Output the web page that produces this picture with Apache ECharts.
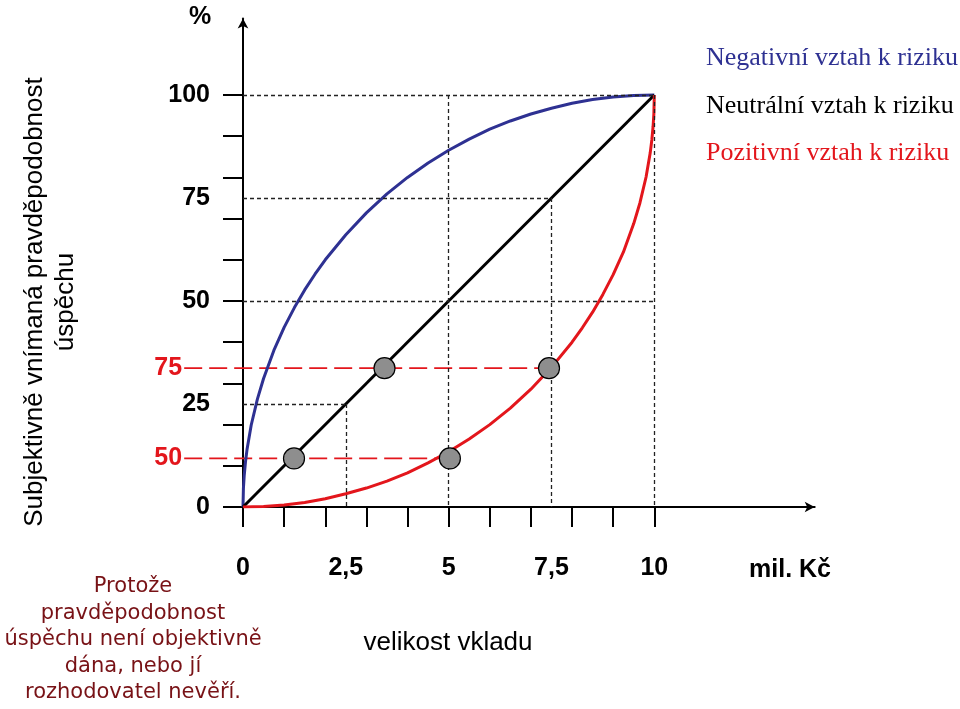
<!DOCTYPE html>
<html><head><meta charset="utf-8">
<script src="https://cdn.jsdelivr.net/npm/echarts@6/dist/echarts.min.js"></script>
<style>html,body{margin:0;padding:0;background:#fff}#c{width:960px;height:709px}</style>
</head><body><div id="c"></div>
<script>
// ---- data ----
const xTickValues = [0,1,2,3,4,5,6,7,8,9,10];
const xLabelValues = [0,2.5,5,7.5,10];
const yTickValues = [0,10,20,30,40,50,60,70,80,90,100];
const yLabelValues = [0,25,50,75,100];
const negativeCurve = [[0,0],[0.01,4.5],[0.03,7.7],[0.06,10.9],[0.1,14.1],[0.2,19.9],[0.35,26.2],[0.5,31.2],[0.75,38],[1,43.6],[1.25,48.4],[1.5,52.7],[1.75,56.5],[2,60],[2.5,66.1],[3,71.4],[3.5,76],[4,80],[4.5,83.5],[5,86.6],[5.5,89.3],[6,91.7],[6.5,93.7],[7,95.4],[7.5,96.8],[8,98],[8.5,98.9],[9,99.5],[9.5,99.87],[10,100]];
const neutralLine = [[0,0],[10,100]];
const positiveCurve = [[0,0],[0.5,0.13],[1,0.5],[1.5,1.1],[2,2],[2.5,3.2],[3,4.6],[3.5,6.3],[4,8.3],[4.5,10.7],[5,13.4],[5.5,16.5],[6,20],[6.5,24],[7,28.6],[7.5,33.9],[8,40],[8.25,43.5],[8.5,47.3],[8.75,51.6],[9,56.4],[9.25,61.9],[9.5,68.8],[9.65,73.8],[9.8,80.1],[9.9,85.9],[9.94,89.1],[9.97,92.3],[9.99,95.5],[10,100]];
const markedPoints = [[1.24,11.8],[3.44,33.7],[5.03,11.8],[7.44,33.7]];
const subjectiveLevels = [{label:'75', y:33.7, xEnd:7.44},{label:'50', y:11.8, xEnd:5.03}];
const subjectiveStartX = -1.43;
const guideSegments = [
  [[0,100],[10,100]], [[0,75],[7.5,75]], [[0,50],[10,50]], [[0,25],[2.5,25]],
  [[2.5,25],[2.5,0]], [[5,100],[5,0]], [[7.5,75],[7.5,0]], [[10,100],[10,0]]
];
const legendNames = ['Negativní vztah k riziku','Neutrální vztah k riziku','Pozitivní vztah k riziku'];
const yTitle = 'Subjektivně vnímaná pravděpodobnost\núspěchu';
const xTitle = 'velikost vkladu';
const xUnit = 'mil. Kč';
const yUnit = '%';
const noteText = 'Protože\npravděpodobnost\núspěchu není objektivně\ndána, nebo jí\nrozhodovatel nevěří.';

const X_MAX = 13.9, Y_MAX = 118.6;
const PX_PER_X = 41.13;
const GRID_LEFT = 243, GRID_TOP = 18.4, GRID_H = 488.6;

const BLUE = '#2e3192', RED = '#e3161c', NOTE = '#781216';
const chart = echarts.init(document.getElementById('c'), null, {renderer:'canvas'});

const series = [];
series.push({
  type:'line', data:[], silent:true, z:1,
  markLine:{ silent:true, symbol:['none','none'], label:{show:false},
    lineStyle:{type:[4,3], color:'#222', width:1.3},
    data: guideSegments.map(s=>[{coord:s[0]},{coord:s[1]}]) }
});
subjectiveLevels.forEach(l=>{
  series.push({
    type:'line', xAxisIndex:1, yAxisIndex:1, silent:true, z:3, symbol:'none',
    lineStyle:{color:RED, width:1.6, type:[18,7]},
    data:[{value:[subjectiveStartX,l.y], symbol:'circle', symbolSize:0.1,
           label:{show:true, position:'left', distance:2, formatter:l.label, color:RED, fontSize:25, fontWeight:'bold', fontFamily:'Liberation Sans, Arial'}},
          [l.xEnd,l.y]],
    showSymbol:true
  });
});
series.push({type:'line', name:legendNames[0], data:negativeCurve, showSymbol:false, z:4, lineStyle:{color:BLUE, width:3, join:'round'}});
series.push({type:'line', name:legendNames[1], data:neutralLine, showSymbol:false, z:4, lineStyle:{color:'#000', width:3}});
series.push({type:'line', name:legendNames[2], data:positiveCurve, showSymbol:false, z:4, lineStyle:{color:RED, width:3, join:'round'}});
series.push({type:'scatter', data:markedPoints, symbolSize:21, z:6,
  itemStyle:{color:'#8e8e8e', borderColor:'#000', borderWidth:1.2, opacity:1}});

const txt = (o)=>({type:'text', silent:true, ...o});
const graphic = [
  txt({x:200, y:17, style:{text:yUnit, fontSize:25, fontWeight:'bold', fontFamily:'Liberation Sans, Arial', fill:'#000', align:'center', verticalAlign:'middle', textAlign:'center', textVerticalAlign:'middle'}}),
  txt({x:790, y:570, style:{text:xUnit, fontSize:25, fontWeight:'bold', fontFamily:'Liberation Sans, Arial', fill:'#000', align:'center', verticalAlign:'middle', textAlign:'center', textVerticalAlign:'middle'}}),
  txt({x:448, y:643, style:{text:xTitle, fontSize:26, fontFamily:'Liberation Sans, Arial', fill:'#000', align:'center', verticalAlign:'middle', textAlign:'center', textVerticalAlign:'middle'}}),
  txt({x:50, y:302, rotation:Math.PI/2, style:{text:yTitle, fontSize:26, lineHeight:31, fontFamily:'Liberation Sans, Arial', fill:'#000', align:'center', verticalAlign:'middle', textAlign:'center', textVerticalAlign:'middle'}}),
  txt({x:133, y:640, style:{text:noteText, fontSize:21, lineHeight:26.5, fontFamily:'DejaVu Sans', fill:NOTE, align:'center', verticalAlign:'middle', textAlign:'center', textVerticalAlign:'middle'}})
];
const legendColors = [BLUE,'#000',RED];
const legendY = [58,106,153];
legendNames.forEach((n,i)=>graphic.push(txt({x:706, y:legendY[i], style:{text:n, fontSize:26, fontFamily:'Liberation Serif, Times New Roman', fill:legendColors[i], align:'left', verticalAlign:'middle', textAlign:'left', textVerticalAlign:'middle'}})));

chart.setOption({
  animation:false,
  backgroundColor:'#fff',
  grid:[
    {left:GRID_LEFT, top:GRID_TOP, width:X_MAX*PX_PER_X, height:GRID_H},
    {left:GRID_LEFT + subjectiveStartX*PX_PER_X, top:GRID_TOP, width:(X_MAX - subjectiveStartX)*PX_PER_X, height:GRID_H}
  ],
  xAxis:[{type:'value', min:0, max:X_MAX,
    axisLine:{show:true, lineStyle:{color:'#000', width:2}, symbol:['none','arrow'], symbolSize:[8,10]},
    axisTick:{show:true, length:20, lineStyle:{color:'#000', width:2}, customValues:xTickValues},
    axisLabel:{show:true, margin:49, customValues:xLabelValues, fontSize:25, fontWeight:'bold', color:'#000', fontFamily:'Liberation Sans, Arial',
      formatter:v=>String(v).replace('.',',')},
    splitLine:{show:false}},
    {type:'value', gridIndex:1, min:subjectiveStartX, max:X_MAX, show:false}],
  yAxis:[{type:'value', min:0, max:Y_MAX,
    axisLine:{show:true, lineStyle:{color:'#000', width:2}, symbol:['none','arrow'], symbolSize:[8,10]},
    axisTick:{show:true, length:20, lineStyle:{color:'#000', width:2}, customValues:yTickValues},
    axisLabel:{show:true, margin:33, customValues:yLabelValues, fontSize:25, fontWeight:'bold', color:'#000', fontFamily:'Liberation Sans, Arial'},
    splitLine:{show:false}},
    {type:'value', gridIndex:1, min:0, max:Y_MAX, show:false}],
  series:series,
  graphic:graphic
});
</script></body></html>
